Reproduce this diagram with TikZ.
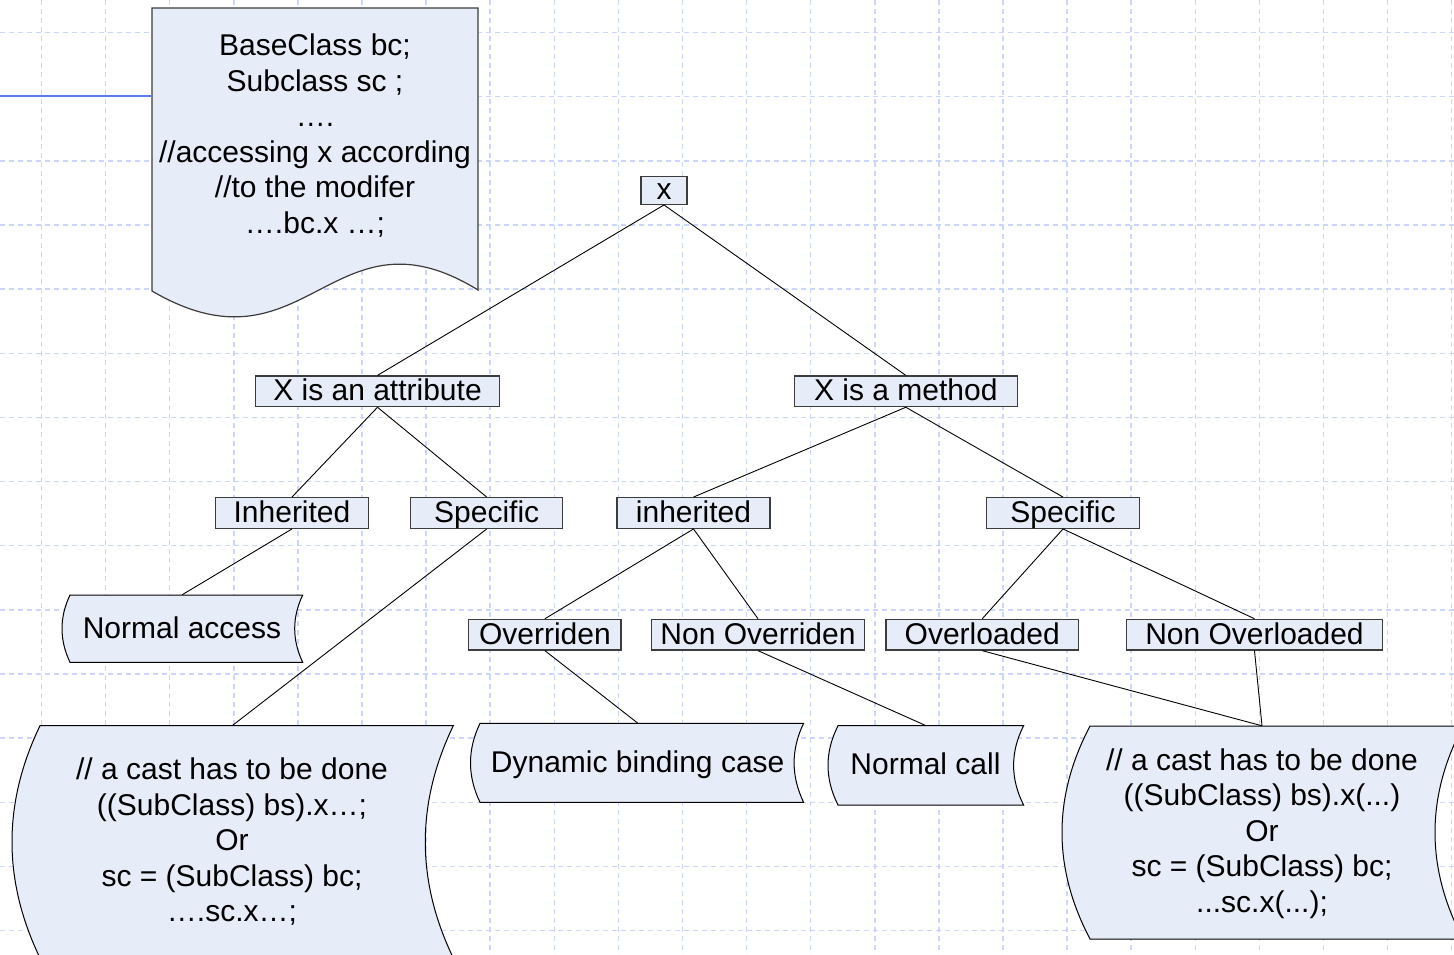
\documentclass[tikz,border=0pt]{standalone}
\usepackage{fontspec}
\setmainfont{Liberation Sans}
\definecolor{boxfill}{RGB}{230,236,248}
\definecolor{gridc}{RGB}{202,214,252}
\definecolor{boxline}{RGB}{60,60,60}
\definecolor{blueline}{RGB}{90,122,240}
\newcommand\storedshape[5]{%
  \draw[storedsh] (#1,#3) -- (#2,#3)
    .. controls ({#2-4/3*#5},{#3+(#4-#3)/3}) and ({#2-4/3*#5},{#4-(#4-#3)/3}) .. (#2,#4)
    -- (#1,#4)
    .. controls ({#1-4/3*#5},{#4-(#4-#3)/3}) and ({#1-4/3*#5},{#3+(#4-#3)/3}) .. cycle;}
\tikzset{
  gridline/.style={draw=gridc, line width=1.5pt, dash pattern=on 5pt off 4pt},
  tbox/.style={draw=boxline, fill=boxfill, line width=1.2pt, inner sep=0pt,
    minimum height=30.7pt, text height=22pt, text depth=3.3pt,
    font=\fontsize{30}{35.6}\selectfont},
  stxt/.style={inner sep=0pt, text height=22pt, text depth=3.3pt,
    font=\fontsize{30}{35.6}\selectfont},
  mtxt/.style={inner sep=0pt, align=center, font=\fontsize{30}{35.6}\selectfont},
  storedsh/.style={draw=black, fill=boxfill, line width=1pt},
  docsh/.style={draw=boxline, fill=boxfill, line width=1.2pt},
  conn/.style={draw=black, line width=0.9pt},
  bluec/.style={draw=blueline, line width=2.2pt}
}
\begin{document}
\begin{tikzpicture}[x=1pt,y=-1pt]
\useasboundingbox (0,0) rectangle (1454,954);
\clip (0,0) rectangle (1454,954);
\fill[white] (0,0) rectangle (1454,954);
% grid
\foreach \k in {0,...,22} \draw[gridline] ({41.5+64.1*\k},0) -- ({41.5+64.1*\k},954);
\foreach \k in {0,...,14} \draw[gridline] (0,{32.5+64.15*\k}) -- (1454,{32.5+64.15*\k});

% document shape
\draw[docsh] (152,291) -- (152,8) -- (478,8) -- (478,290)
  .. controls (332,200) and (306,381) .. cycle;
\node[mtxt, minimum width=326pt] (doc) at (315,135.6)
  {BaseClass bc;\\Subclass sc ;\\….\\//accessing x according\\//to the modifer\\….bc.x …;};
\coordinate (bl) at (0,96);
\draw[bluec] (bl) -- (bl -| doc.west);

% stored-data shapes
\storedshape{70}{302.7}{595}{662.3}{8}
\storedshape{480}{803.6}{723.3}{802.3}{9.5}
\storedshape{838}{1023.6}{725.7}{805}{10}
\storedshape{40}{453.3}{725.7}{958}{28}
\storedshape{1090}{1463}{726}{939}{28}

\node[stxt, minimum height=67.3pt] (nacc) at (182,628.7) {Normal access};
\node[stxt, minimum height=79pt] (dyn) at (637.7,762.8) {Dynamic binding case};
\node[stxt, minimum height=79.3pt] (ncall) at (925.5,765.3) {Normal call};
\node[mtxt, minimum height=231.6pt] (cast1) at (232,841.8)
  {// a cast has to be done\\((SubClass) bs).x…;\\Or\\sc = (SubClass) bc;\\….sc.x…;};
\node[mtxt, minimum height=215pt] (cast2) at (1262,833.5)
  {// a cast has to be done\\((SubClass) bs).x(...)\\Or\\sc = (SubClass) bc;\\...sc.x(...);};

% tree boxes
\node[tbox, minimum width=46pt, minimum height=27.7pt] (x) at (664,190.5) {x};
\node[tbox, minimum width=243.6pt] (attr) at (377.5,391.3) {X is an attribute};
\node[tbox, minimum width=223pt] (meth) at (905.8,391.3) {X is a method};
\node[tbox, minimum width=152.6pt] (inhL) at (292,513) {Inherited};
\node[tbox, minimum width=152pt] (specL) at (486.7,513) {Specific};
\node[tbox, minimum width=153pt] (inhR) at (693.5,513) {inherited};
\node[tbox, minimum width=152.3pt] (specR) at (1063,513) {Specific};
\node[tbox, minimum width=152.3pt] (ovr) at (544.9,634.7) {Overriden};
\node[tbox, minimum width=213.5pt] (novr) at (758,634.7) {Non Overriden};
\node[tbox, minimum width=192.3pt] (ovl) at (982.2,634.7) {Overloaded};
\node[tbox, minimum width=255.6pt] (novl) at (1254.5,634.7) {Non Overloaded};

% connectors
\draw[conn] (x.south) -- (attr.north);
\draw[conn] (x.south) -- (meth.north);
\draw[conn] (attr.south) -- (inhL.north);
\draw[conn] (attr.south) -- (specL.north);
\draw[conn] (meth.south) -- (inhR.north);
\draw[conn] (meth.south) -- (specR.north);
\draw[conn] (inhL.south) -- (nacc.north);
\draw[conn] (specL.south) -- (cast1.north);
\draw[conn] (inhR.south) -- (ovr.north);
\draw[conn] (inhR.south) -- (novr.north);
\draw[conn] (specR.south) -- (ovl.north);
\draw[conn] (specR.south) -- (novl.north);
\draw[conn] (ovr.south) -- (dyn.north);
\draw[conn] (novr.south) -- (ncall.north);
\draw[conn] (ovl.south) -- (cast2.north);
\draw[conn] (novl.south) -- (cast2.north);
\end{tikzpicture}
\end{document}
